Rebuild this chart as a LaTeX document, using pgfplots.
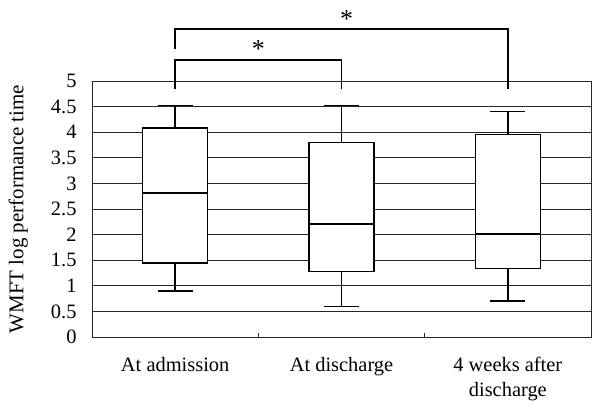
\documentclass[border=0pt]{standalone}
\usepackage{pgfplots}
\pgfplotsset{compat=1.18}
\usepgfplotslibrary{statistics}
\usepackage{fontspec}
\setmainfont{Liberation Serif}
\begin{document}
\begin{tikzpicture}
\useasboundingbox (-92bp,-72bp) rectangle (508bp,337bp);
\begin{axis}[
  at={(0,0)}, anchor=south west,
  scale only axis, width=499bp, height=256bp,
  xmin=-0.5, xmax=2.5, ymin=0, ymax=5,
  clip=false,
  axis line style={black!85, line width=0.8pt},
  ytick={0,0.5,...,5},
  yticklabels={0,0.5,1,1.5,2,2.5,3,3.5,4,4.5,5},
  ymajorgrids, grid style={black!85, line width=0.7pt},
  y tick style={draw=none},
  yticklabel style={font=\fontsize{20.5}{22}\selectfont, xshift=-12bp},
  /pgf/number format/assume math mode=true,
  xtick={0.5,1.5}, xticklabels={},
  xtick pos=bottom, tick align=inside,
  major tick length=4bp,
  x tick style={black!85, line width=0.8pt},
  extra x ticks={0,1,2},
  extra x tick labels={At admission, At discharge, {4 weeks after\\discharge}},
  extra x tick style={tick style={draw=none}, grid=none},
  xticklabel style={font=\fontsize{20.5}{25}\selectfont, align=center, yshift=-17bp},
  ylabel={WMFT log performance time},
  ylabel style={font=\fontsize{21}{22}\selectfont, at={(axis description cs:-0.148,0.5)}, anchor=center},
  boxplot/draw direction=y,
  boxplot/box extend=0.39, boxplot/whisker extend=0.21,
]
\addplot+[boxplot prepared={median=2.81, upper quartile=4.08, lower quartile=1.45, upper whisker=4.52, lower whisker=0.9, draw position=0},
  draw=black, fill=white, line width=1.5pt, mark=none, solid] coordinates {};
\addplot+[boxplot prepared={median=2.21, upper quartile=3.80, lower quartile=1.28, upper whisker=4.52, lower whisker=0.6, draw position=1},
  draw=black, fill=white, line width=1.5pt, mark=none, solid] coordinates {};
\addplot+[boxplot prepared={median=2.01, upper quartile=3.96, lower quartile=1.34, upper whisker=4.40, lower whisker=0.7, draw position=2},
  draw=black, fill=white, line width=1.5pt, mark=none, solid] coordinates {};
\draw[line width=1.5pt] (axis cs:0,4.84) -- (axis cs:0,5.41) -- (axis cs:1,5.41) -- (axis cs:1,4.84);
\draw[line width=1.5pt] (axis cs:0,5.63) -- (axis cs:0,6.02) -- (axis cs:2,6.02) -- (axis cs:2,4.84);
\node[font=\fontsize{26}{26}\selectfont, inner sep=0pt, anchor=center] at (axis cs:0.5,5.62) {*};
\node[font=\fontsize{26}{26}\selectfont, inner sep=0pt, anchor=center] at (axis cs:1.03,6.22) {*};
\end{axis}
\end{tikzpicture}
\end{document}
